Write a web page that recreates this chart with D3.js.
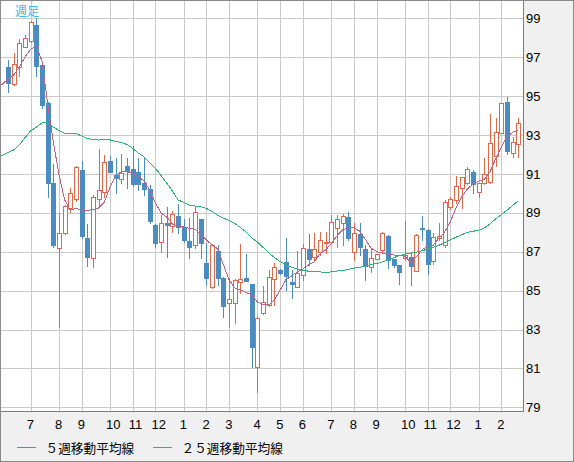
<!DOCTYPE html>
<html>
<head>
<meta charset="utf-8">
<script src="https://cdn.jsdelivr.net/npm/d3@7"></script>
<style>
  html, body { margin: 0; padding: 0; background: #f0f0f0; }
  svg { display: block; }
</style>
</head>
<body>
<div class="chart"></div>
<script>
// weekly candles, oldest first
const opens = [
    96.51, 95.61, 96.48, 97.54, 97.85, 98.66, 96.60, 94.63, 90.55, 87.17,
    87.98, 89.23, 89.69, 91.20, 87.69, 86.66, 89.69, 90.08, 91.66, 90.94,
    90.72, 91.41, 91.24, 91.11, 90.55, 90.21, 88.37, 87.51, 88.49, 88.34,
    88.84, 88.25, 87.55, 87.34, 88.67, 86.43, 85.20, 87.05, 85.63, 84.35,
    84.35, 85.43, 85.63, 85.34, 81.09, 83.83, 84.26, 85.58, 86.06, 86.47,
    85.46, 85.20, 85.80, 87.12, 86.74, 87.00, 87.46, 87.48, 88.20, 88.46,
    88.77, 86.97, 87.91, 87.14, 86.20, 86.61, 87.09, 87.81, 86.62, 86.32,
    86.66, 86.74, 86.02, 88.23, 88.12, 86.52, 87.69, 87.34, 89.31, 89.66,
    90.26, 90.55, 91.11, 90.08, 90.55, 90.60, 91.92, 93.12, 94.68, 92.06,
    92.54
];
const highs = [
    96.86, 97.23, 97.92, 98.14, 98.85, 99.00, 96.65, 94.70, 91.50, 89.00,
    89.40, 90.26, 91.40, 91.66, 88.42, 89.92, 92.28, 91.97, 91.94, 91.80,
    92.02, 91.80, 92.43, 91.83, 91.80, 90.45, 88.40, 88.89, 89.31, 89.09,
    89.45, 88.70, 88.72, 89.28, 88.70, 87.43, 87.40, 87.34, 85.70, 85.63,
    85.60, 87.40, 86.88, 85.35, 83.70, 85.24, 86.06, 86.40, 86.10, 87.69,
    86.06, 87.05, 87.40, 87.91, 87.98, 88.03, 88.00, 88.89, 88.89, 88.94,
    89.06, 88.46, 88.46, 87.34, 87.17, 86.90, 88.03, 87.85, 86.62, 86.32,
    88.60, 87.00, 87.90, 88.84, 88.15, 87.95, 88.46, 89.66, 89.80, 90.89,
    90.85, 91.37, 91.20, 90.52, 91.80, 94.08, 93.86, 94.63, 94.97, 92.88,
    93.86
];
const lows = [
    95.23, 95.55, 96.03, 97.50, 97.80, 96.03, 94.40, 89.80, 87.25, 83.13,
    87.90, 89.06, 89.60, 87.69, 86.26, 86.23, 89.31, 89.83, 91.10, 90.03,
    90.52, 90.30, 90.40, 90.17, 89.92, 88.46, 87.26, 87.00, 86.71, 88.03,
    87.95, 87.50, 86.66, 87.20, 86.66, 85.29, 85.15, 85.29, 83.66, 83.14,
    83.32, 84.89, 85.50, 81.09, 79.80, 83.80, 84.20, 84.26, 85.85, 85.03,
    84.60, 85.20, 85.55, 86.32, 86.50, 86.83, 86.93, 87.43, 87.26, 87.34,
    87.60, 86.57, 86.83, 85.55, 85.97, 86.60, 87.00, 86.15, 86.23, 85.32,
    86.57, 85.29, 86.00, 87.60, 85.85, 86.37, 87.60, 87.22, 89.18, 89.49,
    89.23, 90.50, 90.03, 89.83, 90.50, 90.55, 91.41, 93.12, 92.02, 91.85,
    91.88
];
const closes = [
    95.66, 96.63, 97.71, 97.97, 98.79, 96.56, 94.54, 90.55, 87.34, 87.95,
    89.35, 90.00, 91.34, 87.81, 86.74, 89.80, 90.17, 91.60, 91.11, 90.77,
    91.03, 91.16, 90.47, 90.47, 90.21, 88.59, 87.46, 88.46, 88.37, 88.92,
    88.29, 87.60, 87.23, 89.03, 87.43, 85.63, 87.34, 85.63, 84.21, 84.55,
    85.55, 85.58, 85.51, 82.08, 83.58, 84.43, 85.68, 86.20, 85.89, 85.77,
    85.32, 85.89, 87.17, 86.61, 87.12, 87.60, 87.50, 88.51, 88.67, 88.85,
    87.69, 87.95, 87.23, 86.26, 86.66, 86.88, 87.95, 86.57, 86.32, 85.97,
    86.83, 86.28, 87.86, 88.15, 86.37, 87.74, 87.81, 89.54, 89.69, 90.39,
    90.83, 91.24, 90.47, 90.52, 90.98, 92.60, 93.14, 94.63, 92.19, 92.62,
    93.63
];

// moving averages start two weeks before the first visible candle
const maStart = -2;
const ma5 = [
    95.36, 95.62, 95.88, 96.08, 96.50, 97.01, 97.42, 97.55, 96.80, 94.59,
    92.64, 90.94, 89.66, 89.14, 89.22, 89.14, 89.12, 89.17, 89.25, 89.56,
    90.33, 90.89, 91.12, 91.11, 91.02, 90.87, 90.63, 90.17, 89.50, 88.99,
    88.78, 88.42, 88.30, 88.27, 88.20, 88.14, 87.91, 87.60, 87.34, 87.14,
    86.32, 85.55, 85.14, 85.03, 84.90, 84.78, 84.41, 84.29, 84.26, 84.52,
    85.03, 85.55, 85.75, 85.96, 86.11, 86.32, 86.47, 86.88, 87.09, 87.40,
    87.81, 88.12, 88.22, 88.22, 88.06, 87.65, 87.19, 87.01, 86.93, 86.88,
    86.83, 86.83, 86.75, 86.47, 86.73, 87.09, 87.29, 87.34, 87.70, 88.01,
    88.53, 89.25, 89.81, 90.22, 90.48, 90.63, 90.71, 91.10, 91.77, 92.38,
    92.90, 93.14, 93.26
];
const ma25 = [
    91.82, 91.95, 92.10, 92.23, 92.49, 92.87, 93.21, 93.41, 93.62, 93.62,
    93.41, 93.23, 93.09, 93.09, 93.08, 92.95, 92.82, 92.77, 92.74, 92.77,
    92.75, 92.67, 92.61, 92.51, 92.31, 92.07, 91.87, 91.56, 91.28, 90.92,
    90.53, 90.12, 89.66, 89.53, 89.38, 89.35, 89.32, 89.22, 89.07, 88.86,
    88.73, 88.60, 88.45, 88.24, 88.01, 87.70, 87.50, 87.22, 86.93, 86.70,
    86.49, 86.34, 86.21, 86.11, 86.04, 86.00, 85.97, 85.96, 85.94, 85.96,
    86.01, 86.04, 86.09, 86.15, 86.20, 86.26, 86.33, 86.39, 86.47, 86.57,
    86.69, 86.80, 86.87, 86.92, 86.97, 87.05, 87.13, 87.23, 87.33, 87.47,
    87.60, 87.74, 87.87, 87.99, 88.05, 88.10, 88.22, 88.43, 88.68, 88.91,
    89.13, 89.38, 89.61
];

// first week of each month (candle index) and its label
const monthWeeks = [4, 9, 13, 18, 22, 26, 31, 35, 39, 44, 48, 52, 57, 61, 65, 70, 74, 78, 83, 87];
const monthLabels = ["7", "8", "9", "10", "11", "12", "1", "2", "3", "4", "5", "6", "7", "8", "9", "10", "11", "12", "1", "2"];
const priceTicks = [79, 81, 83, 85, 87, 89, 91, 93, 95, 97, 99];

const legendNames = ["５週移動平均線", "２５週移動平均線"];

const W = 574, H = 462;
const plot = { left: 1, top: 1, right: 523, bottom: 412 };
const upColor = "#df6848", downColor = "#4a8bc1";
const ma5Color = "#b8648c", ma25Color = "#2eb277";
const gridColor = "#c9c9c9", frameColor = "#7c7c7c";
const numFont = "'Liberation Sans', Arial, sans-serif";
const jpFont = "'Noto Sans CJK JP', sans-serif";

const xScale = d3.scaleLinear().domain([0, 90]).range([8, 518.3]);
const yScale = d3.scaleLinear().domain([79, 99]).range([407.3, 18.3]);
const px = (v) => Math.round(v) + 0.5;

let svg = d3.select(".chart")
            .append("svg")
            .attr("width", W)
            .attr("height", H);

svg.append("rect")
    .attr("width", W)
    .attr("height", H)
    .attr("fill", "#f0f0f0");

svg.append("defs")
    .append("clipPath")
    .attr("id", "plotClip")
    .append("rect")
    .attr("x", plot.left)
    .attr("y", plot.top)
    .attr("width", plot.right - plot.left)
    .attr("height", plot.bottom - plot.top);

svg.append("rect")
    .attr("x", plot.left)
    .attr("y", plot.top)
    .attr("width", plot.right - plot.left)
    .attr("height", plot.bottom - plot.top)
    .attr("fill", "#ffffff");

// grid
let grid = svg.append("g")
            .attr("clip-path", "url(#plotClip)")
            .attr("stroke", gridColor)
            .attr("shape-rendering", "crispEdges");
grid.selectAll(".hgrid")
    .data(priceTicks)
    .enter()
    .append("line")
    .attr("x1", plot.left)
    .attr("x2", plot.right)
    .attr("y1", (d) => px(yScale(d)))
    .attr("y2", (d) => px(yScale(d)));
grid.selectAll(".vgrid")
    .data(monthWeeks)
    .enter()
    .append("line")
    .attr("x1", (d) => px(xScale(d)))
    .attr("x2", (d) => px(xScale(d)))
    .attr("y1", plot.top)
    .attr("y2", plot.bottom);

// candles
const candles = closes.map((c, i) => ({ i: i, o: opens[i], h: highs[i], l: lows[i], c: c }));
let candleG = svg.append("g")
            .attr("clip-path", "url(#plotClip)")
            .attr("shape-rendering", "crispEdges");

let cg = candleG.selectAll(".candle")
            .data(candles)
            .enter()
            .append("g")
            .attr("class", "candle");

cg.append("line")
    .attr("x1", (d) => px(xScale(d.i)))
    .attr("x2", (d) => px(xScale(d.i)))
    .attr("y1", (d) => Math.round(yScale(d.h)))
    .attr("y2", (d) => Math.round(yScale(d.l)) + 1)
    .attr("stroke", (d) => d.c >= d.o ? upColor : downColor);

// falling weeks: filled blue
cg.filter((d) => d.c < d.o)
    .append("rect")
    .attr("x", (d) => Math.round(xScale(d.i)) - 2)
    .attr("y", (d) => Math.round(yScale(d.o)))
    .attr("width", 5)
    .attr("height", (d) => Math.max(1, Math.round(yScale(d.c)) - Math.round(yScale(d.o)) + 1))
    .attr("fill", downColor);

// rising weeks: hollow orange
cg.filter((d) => d.c >= d.o)
    .append("rect")
    .attr("x", (d) => Math.round(xScale(d.i)) - 1.5)
    .attr("y", (d) => px(yScale(d.c)))
    .attr("width", 4)
    .attr("height", (d) => Math.max(1, Math.round(yScale(d.o)) - Math.round(yScale(d.c))))
    .attr("fill", "#ffffff")
    .attr("stroke", upColor);

// moving averages (drawn pixel-hard like the original)
const maLine = d3.line()
            .x((d, i) => xScale(i + maStart))
            .y((d) => yScale(d));

let maG = svg.append("g")
            .attr("clip-path", "url(#plotClip)")
            .attr("shape-rendering", "crispEdges");
maG.append("path")
    .attr("d", maLine(ma25))
    .attr("fill", "none")
    .attr("stroke", ma25Color)
    .attr("stroke-width", 1);
maG.append("path")
    .attr("d", maLine(ma5))
    .attr("fill", "none")
    .attr("stroke", ma5Color)
    .attr("stroke-width", 1);

// frame
svg.append("path")
    .attr("d", `M${plot.left},${plot.bottom - 0.5}H${plot.right + 0.5}V0`)
    .attr("fill", "none")
    .attr("stroke", frameColor)
    .attr("shape-rendering", "crispEdges");
svg.append("rect")
    .attr("x", 0.5)
    .attr("y", 0.5)
    .attr("width", W - 1)
    .attr("height", H - 1)
    .attr("fill", "none")
    .attr("stroke", "#8a8a8a")
    .attr("shape-rendering", "crispEdges");

// price axis on the right
svg.append("g")
    .attr("transform", "translate(" + plot.right + ",0)")
    .call(d3.axisRight(yScale)
            .tickValues(priceTicks)
            .tickSize(0)
            .tickPadding(3)
            .tickFormat(d3.format("d")))
    .call((g) => g.select(".domain").remove())
    .attr("font-family", numFont)
    .attr("font-size", 13)
    .selectAll("text")
    .attr("fill", "#000");

// month axis along the bottom
svg.append("g")
    .attr("transform", "translate(0," + plot.bottom + ")")
    .call(d3.axisBottom(xScale)
            .tickValues(monthWeeks)
            .tickSize(0)
            .tickPadding(8)
            .tickFormat((d, i) => monthLabels[i]))
    .call((g) => g.select(".domain").remove())
    .attr("font-family", numFont)
    .attr("font-size", 13)
    .selectAll("text")
    .attr("fill", "#000")
    .attr("text-anchor", "start")
    .attr("dx", -4.5);

// title
svg.append("text")
    .text("週足")
    .attr("x", 15)
    .attr("y", 15.5)
    .attr("font-family", jpFont)
    .attr("font-size", 12)
    .attr("fill", "#3bb5e6");

// legend
const legendX = [17, 153];
let legend = svg.append("g")
            .attr("font-family", jpFont)
            .attr("font-size", 12.7);
legend.selectAll(".legendLine")
    .data([ma5Color, ma25Color])
    .enter()
    .append("line")
    .attr("x1", (d, i) => legendX[i])
    .attr("x2", (d, i) => legendX[i] + 19)
    .attr("y1", 447.5)
    .attr("y2", 447.5)
    .attr("stroke", (d) => d);
legend.selectAll(".legendText")
    .data(legendNames)
    .enter()
    .append("text")
    .text((d) => d)
    .attr("x", (d, i) => legendX[i] + 28.5)
    .attr("y", 453)
    .attr("fill", "#000");
</script>
</body>
</html>
